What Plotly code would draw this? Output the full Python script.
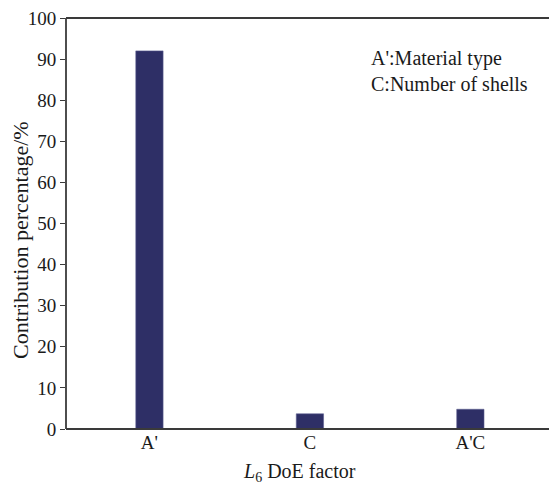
import plotly.graph_objects as go

# Contribution of each DoE factor
factors = ["A'", "C", "A'C"]
contribution = [92.0, 3.7, 4.8]
y_ticks = [0, 10, 20, 30, 40, 50, 60, 70, 80, 90, 100]

bar_color = "#2e2f66"
axis_color = "#3a3a3a"
font_family = "Liberation Serif, Times New Roman, serif"

fig = go.Figure(
    go.Bar(
        x=list(range(len(factors))),
        y=contribution,
        width=0.17,
        marker=dict(color=bar_color, line=dict(color="#5a5d8f", width=0.6)),
        hoverinfo="skip",
    )
)

fig.update_layout(
    width=549,
    height=493,
    margin=dict(l=66, r=0, t=18, b=64),
    plot_bgcolor="white",
    paper_bgcolor="white",
    showlegend=False,
    font=dict(family=font_family, size=19, color="#1a1a1a"),
)

fig.update_xaxes(
    range=[-0.52, 2.49],
    tickmode="array",
    tickvals=list(range(len(factors))),
    ticktext=factors,
    ticks="",
    showgrid=False,
    zeroline=False,
    showline=False,
    tickfont=dict(size=19),
)

fig.update_yaxes(
    range=[0, 100],
    tickmode="array",
    tickvals=y_ticks,
    ticks="outside",
    ticklen=5,
    tickwidth=1.4,
    tickcolor=axis_color,
    showgrid=False,
    zeroline=False,
    showline=False,
    tickfont=dict(size=19),
)

# White strip along the right edge (the frame is open on that side)
fig.add_shape(
    type="rect", xref="paper", yref="paper", layer="above",
    x0=0.996, x1=1.02, y0=-0.01, y1=0.996,
    fillcolor="white", line=dict(width=0),
)

# Frame: left, bottom and top lines
for x0, y0, x1, y1 in [(0, 0, 0, 1), (0, 0, 1, 0), (0, 1, 1, 1)]:
    fig.add_shape(
        type="line", xref="paper", yref="paper", layer="above",
        x0=x0, y0=y0, x1=x1, y1=y1,
        line=dict(color=axis_color, width=1.8),
    )

# Axis titles
fig.add_annotation(
    xref="paper", yref="paper", x=-0.093, y=0.46,
    xanchor="center", yanchor="middle", textangle=-90,
    showarrow=False, text="Contribution percentage/%",
    font=dict(size=22, family=font_family, color="#1a1a1a"),
)
fig.add_annotation(
    xref="paper", yref="paper", x=0.484, y=-0.105,
    xanchor="center", yanchor="middle",
    showarrow=False, text="<i>L</i><sub>6</sub> DoE factor",
    font=dict(size=20, family=font_family, color="#1a1a1a"),
)

fig.add_annotation(
    xref="paper", yref="paper",
    x=0.628, y=0.935,
    xanchor="left", yanchor="top",
    align="left",
    showarrow=False,
    text="A':Material type<br>C:Number of shells",
    font=dict(size=20, family=font_family, color="#1a1a1a"),
)

fig.write_html("out.html")
